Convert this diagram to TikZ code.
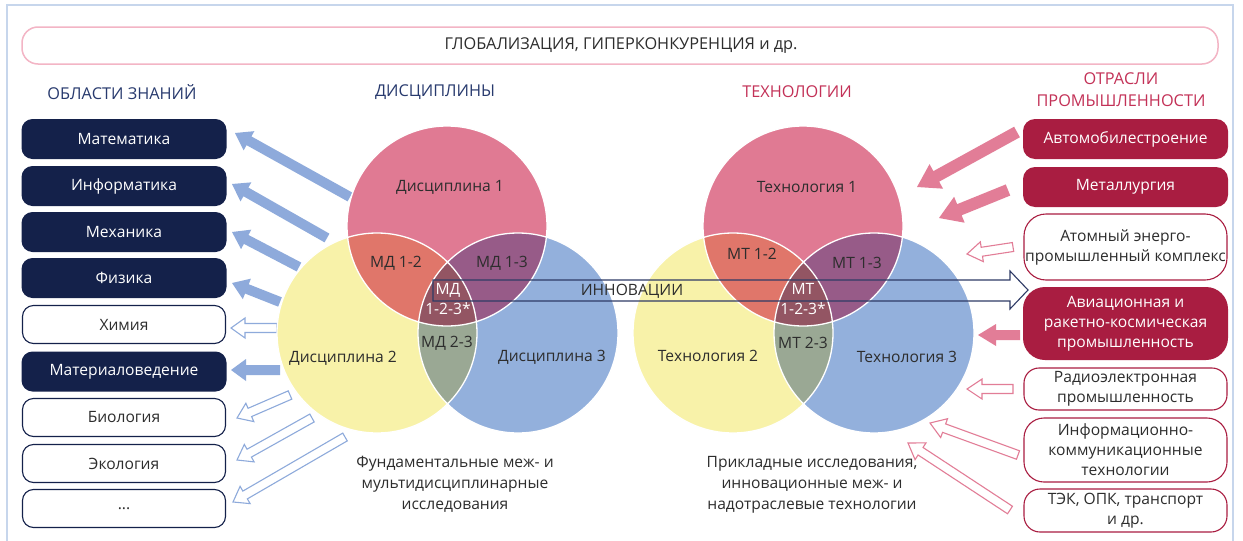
\documentclass[tikz,border=0pt]{standalone}
\usepackage{fontspec}
\setmainfont{Open Sans}
\usetikzlibrary{calc}
\definecolor{navy}{HTML}{14214A}
\definecolor{crim}{HTML}{A91D41}
\definecolor{hnavy}{HTML}{283A6E}
\definecolor{hcrim}{HTML}{C33157}
\definecolor{txt}{HTML}{2D2D2D}
\definecolor{ablue}{HTML}{8EAADB}
\definecolor{apink}{HTML}{E27D97}
\definecolor{cpink}{HTML}{E07A93}
\definecolor{cyel}{HTML}{F8F2A9}
\definecolor{cblue}{HTML}{93B0DC}
\definecolor{cot}{HTML}{E0766A}
\definecolor{cott}{HTML}{975B88}
\definecolor{ctt}{HTML}{9AA894}
\definecolor{call}{HTML}{935563}
\definecolor{frame}{HTML}{C7D6EC}
\definecolor{bann}{HTML}{F3B5C5}
\definecolor{innov}{HTML}{2F3B66}
\newcommand\fs{\fontsize{15.6pt}{20pt}\selectfont}
\newcommand\hfs{\fontsize{16.3pt}{21pt}\selectfont}
\newcommand\blockarr[6]{%
  \coordinate (bah) at ($(#3)!#6!(#2)$);
  \draw[#1] (#3) -- ($(bah)!#5!90:(#2)$) -- ($(bah)!#4!90:(#2)$)
    -- ($(#2)!#4!-90:(bah)$) -- ($(#2)!#4!90:(bah)$)
    -- ($(bah)!#4!-90:(#2)$) -- ($(bah)!#5!-90:(#2)$) -- cycle;}
\tikzset{
  every node/.style={font=\fs, text=txt},
  lboxd/.style={rounded corners=11pt, fill=navy, text=white, minimum width=205pt, minimum height=40pt, inner sep=0pt},
  lboxw/.style={rounded corners=11pt, draw=navy, line width=1.1pt, fill=white, minimum width=203pt, minimum height=38pt, inner sep=0pt},
  rboxd/.style={rounded corners=#1, fill=crim, text=white, minimum width=205pt, inner sep=0pt, align=center},
  rboxw/.style={rounded corners=#1, draw=crim, line width=1.1pt, fill=white, minimum width=203pt, inner sep=0pt, align=center},
  head/.style={font=\hfs, text=hnavy, align=center},
  arrbf/.style={fill=ablue, draw=none},
  arrbo/.style={fill=white, draw=ablue, line width=1.1pt},
  arrpf/.style={fill=apink, draw=none},
  arrpo/.style={fill=white, draw=apink, line width=1.1pt},
  wlab/.style={text=white, align=center},
  venn/.style={draw=white, line width=1.3pt},
}
\begin{document}
\begin{tikzpicture}[x=1pt,y=-1pt]
\useasboundingbox (0,0) rectangle (1243,541);
\fill[white] (0,0) rectangle (1243,541);
% frame
\draw[frame, line width=1.5pt] (7,541) -- (7,5) -- (1233,5) -- (1233,541);
% banner
\draw[bann, line width=1.5pt, rounded corners=16pt] (22,27) rectangle (1218,64);
\node[font=\hfs] (ban) at (621,46) {ГЛОБАЛИЗАЦИЯ, ГИПЕРКОНКУРЕНЦИЯ и др.};
% headers
\node[head] (h1) at (122,92) {ОБЛАСТИ ЗНАНИЙ};
\node[head] (h2) at (435,92) {ДИСЦИПЛИНЫ};
\node[head, text=hcrim] (h3) at (797,92) {ТЕХНОЛОГИИ};
\node[head, text=hcrim] (h4) at (1121,90) {ОТРАСЛИ\\[1pt]ПРОМЫШЛЕННОСТИ};
% left boxes
\node[lboxd] (km) at (124,139) {Математика};
\node[lboxd] (ki) at (124,186) {Информатика};
\node[lboxd] (kme) at (124,232) {Механика};
\node[lboxd] (kf) at (124,278) {Физика};
\node[lboxw] (kh) at (124,324.5) {Химия};
\node[lboxd] (kma) at (124,371.5) {Материаловедение};
\node[lboxw] (kb) at (124,417.5) {Биология};
\node[lboxw] (ke) at (124,463.5) {Экология};
\node[lboxw] (kd) at (124,508.5) {...};
% right boxes
\node[rboxd=12pt, minimum height=40pt] (ra) at (1125.5,139) {Автомобилестроение};
\node[rboxd=12pt, minimum height=40pt] (rm) at (1125.5,187) {Металлургия};
\node[rboxw=22pt, minimum height=66pt] (rat) at (1125.5,247) {Атомный энерго-\\промышленный комплекс};
\node[rboxd=22pt, minimum height=73pt] (rav) at (1125.5,323.5) {Авиационная и\\ракетно-космическая\\промышленность};
\node[rboxw=15pt, minimum height=42pt] (rr) at (1125.5,389) {Радиоэлектронная\\промышленность};
\node[rboxw=20pt, minimum height=64pt] (ri) at (1125.5,450) {Информационно-\\коммуникационные\\технологии};
\node[rboxw=16pt, minimum height=43pt] (rt) at (1125.5,510.5) {ТЭК, ОПК, транспорт\\и др.};
% arrow end points
\coordinate (a1t) at (350,197); \coordinate (a1h) at (235,133);
\coordinate (a2t) at (327,238); \coordinate (a2h) at (232,184);
\coordinate (a3t) at (299,267); \coordinate (a3h) at (232,232);
\coordinate (a4t) at (280,302); \coordinate (a4h) at (232,283);
\coordinate (a5t) at (277,328); \coordinate (a5h) at (231,328);
\coordinate (a6t) at (280,370); \coordinate (a6h) at (231,370);
\coordinate (a7t) at (290,395); \coordinate (a7h) at (237,418);
\coordinate (a8t) at (312,418); \coordinate (a8h) at (237,460);
\coordinate (a9t) at (345,437); \coordinate (a9h) at (233,502);
\coordinate (b1t) at (1017,132); \coordinate (b1h) at (917,187);
\coordinate (b2t) at (1008,190); \coordinate (b2h) at (939,218);
\coordinate (b3t) at (1013,247); \coordinate (b3h) at (967,254);
\coordinate (b4t) at (1020,335); \coordinate (b4h) at (978,335);
\coordinate (b5t) at (1013,389); \coordinate (b5h) at (967,389);
\coordinate (b6t) at (1018,455); \coordinate (b6h) at (930,423);
\coordinate (b7t) at (1010,510); \coordinate (b7h) at (908,443);
% left arrows
\blockarr{arrbf}{a1t}{a1h}{5pt}{11pt}{16pt}
\blockarr{arrbf}{a2t}{a2h}{5pt}{11pt}{16pt}
\blockarr{arrbf}{a3t}{a3h}{5pt}{11pt}{16pt}
\blockarr{arrbf}{a4t}{a4h}{5pt}{11pt}{16pt}
\blockarr{arrbo}{a5t}{a5h}{4.5pt}{10pt}{14pt}
\blockarr{arrbf}{a6t}{a6h}{5pt}{11pt}{15pt}
\blockarr{arrbo}{a7t}{a7h}{4.5pt}{10pt}{14pt}
\blockarr{arrbo}{a8t}{a8h}{4.5pt}{10pt}{14pt}
\blockarr{arrbo}{a9t}{a9h}{4.5pt}{10pt}{14pt}
% right arrows
\blockarr{arrpf}{b1t}{b1h}{6pt}{14pt}{22pt}
\blockarr{arrpf}{b2t}{b2h}{6pt}{14pt}{22pt}
\blockarr{arrpo}{b3t}{b3h}{4.5pt}{10pt}{15pt}
\blockarr{arrpf}{b4t}{b4h}{5pt}{11pt}{18pt}
\blockarr{arrpo}{b5t}{b5h}{4.5pt}{10pt}{15pt}
\blockarr{arrpo}{b6t}{b6h}{4.5pt}{10pt}{15pt}
\blockarr{arrpo}{b7t}{b7h}{4.5pt}{10pt}{15pt}
% Venn diagrams
\foreach \ox/\name in {0/D, 356/T}{
  \begin{scope}[xshift=\ox]
    \fill[cpink] (447,226) circle (100pt);
    \fill[cyel] (377,333) circle (100pt);
    \fill[cblue] (518,333) circle (100pt);
    \begin{scope}\clip (447,226) circle (100pt); \fill[cot] (377,333) circle (100pt);\end{scope}
    \begin{scope}\clip (447,226) circle (100pt); \fill[cott] (518,333) circle (100pt);\end{scope}
    \begin{scope}\clip (377,333) circle (100pt); \fill[ctt] (518,333) circle (100pt);\end{scope}
    \begin{scope}\clip (447,226) circle (100pt); \clip (377,333) circle (100pt); \fill[call] (518,333) circle (100pt);\end{scope}
    \draw[venn] (447,226) circle (100pt) (377,333) circle (100pt) (518,333) circle (100pt);
  \end{scope}
}
% innovation arrow
\draw[innov, line width=1.1pt] (433,280) -- (1010,280) -- (1010,271) -- (1028,290) -- (1010,309) -- (1010,301) -- (433,301) -- cycle;
\node (inn) at (632,291) {ИННОВАЦИИ};
% left Venn labels
\node (d1) at (450,187) {Дисциплина 1};
\node (d2) at (343,358) {Дисциплина 2};
\node (d3) at (552,357) {Дисциплина 3};
\node (d12) at (396,263) {МД 1-2};
\node (d13) at (502,263) {МД 1-3};
\node (d23) at (447,343) {МД 2-3};
\node[wlab] (d123) at (448,299) {МД\\1-2-3*};
\node[align=center] (dtxt) at (455,484) {Фундаментальные меж- и\\[1pt]мультидисциплинарные\\[1pt]исследования};
% right Venn labels
\node (t1) at (807,187) {Технология 1};
\node (t2) at (708,356) {Технология 2};
\node (t3) at (907,357) {Технология 3};
\node (t12) at (752,254) {МТ 1-2};
\node (t13) at (857,263) {МТ 1-3};
\node (t23) at (803,343) {МТ 2-3};
\node[wlab] (t123) at (803,299) {МТ\\1-2-3*};
\node[align=center] (ttxt) at (812,485) {Прикладные исследования,\\[1pt]инновационные меж- и\\[1pt]надотраслевые технологии};
\end{tikzpicture}
\end{document}
